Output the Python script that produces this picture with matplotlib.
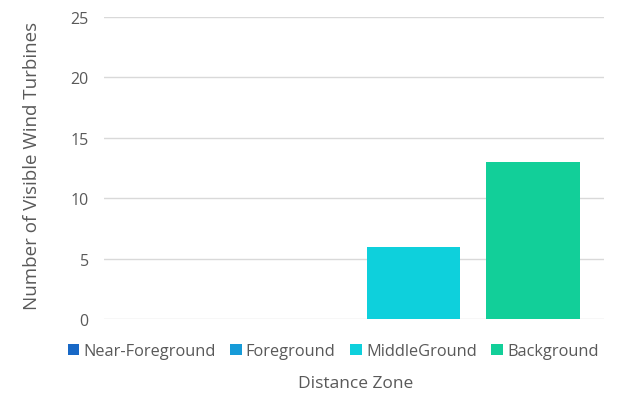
import matplotlib.pyplot as plt
from matplotlib.patches import Patch

# Datos
zonas = ['Near-Foreground', 'Foreground', 'MiddleGround', 'Background']
turbinas = [0, 0, 6, 13]
colores = ['#1868C6', '#169BD8', '#0ED0DC', '#12CF99']
yticks = [0, 5, 10, 15, 20, 25]

plt.rcParams['font.family'] = ['Open Sans', 'DejaVu Sans']

fig = plt.figure(figsize=(6.28, 4.02), dpi=100)
ax = fig.add_axes([104 / 628, 1 - 320 / 402, 500 / 628, 302 / 402])

x = range(len(zonas))
ax.bar(x, turbinas, width=0.78, color=colores, zorder=3)

ax.set_xlim(-0.59, 3.594)
ax.set_ylim(0, 25)
ax.set_yticks(yticks)
ax.set_xticks([])
ax.grid(axis='y', color='#D9D9D9', linewidth=1, zorder=0)
for s in ax.spines.values():
    s.set_visible(False)
ax.tick_params(axis='y', length=0, pad=11, labelsize=11.5, labelcolor='#595959')

ax.set_ylabel('Number of Visible Wind Turbines', fontsize=13.5, color='#595959')
ax.yaxis.set_label_coords(-0.126, 0.51)

handles = [Patch(facecolor=c, label=z) for z, c in zip(zonas, colores)]
fig.legend(handles=handles, loc='center', bbox_to_anchor=(333 / 628, 1 - 352 / 402),
           ncol=4, frameon=False, fontsize=11.8, labelcolor='#595959',
           handlelength=0.7, handleheight=0.7, handletextpad=0.25, columnspacing=0.9)

fig.text(356 / 628, 1 - 384 / 402, 'Distance Zone', ha='center', va='center',
         fontsize=12.5, color='#595959')

fig.savefig('out.png', dpi=100)
